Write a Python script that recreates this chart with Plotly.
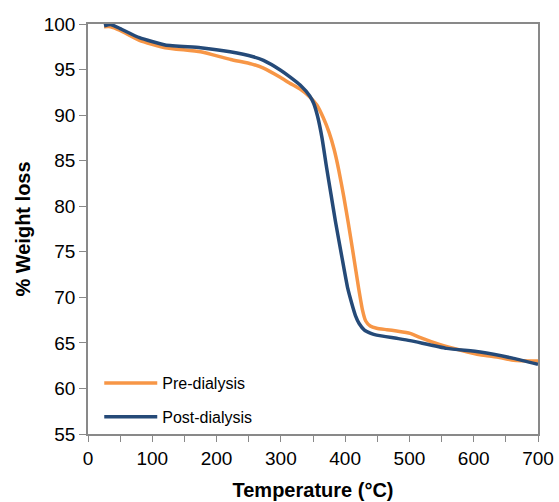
import plotly.graph_objects as go

# Thermogravimetric curves (temperature in °C, remaining weight in %)
pre_temp = [25, 35, 50, 80, 120, 175, 222, 255, 273, 299, 314, 330, 345, 356,
            366, 375, 383, 390, 398, 405, 413, 421, 427, 432, 439, 449, 465,
            480, 501, 516, 548, 580, 610, 640, 662, 700]
pre_weight = [99.7, 99.7, 99.3, 98.2, 97.4, 96.95, 96.1, 95.6, 95.15, 94.15, 93.5,
              92.85, 92.0, 91.1, 89.7, 88.1, 86.2, 84.0, 81.0, 78.1, 74.6, 71.0,
              68.6, 67.4, 66.85, 66.6, 66.45, 66.3, 66.05, 65.6, 64.8, 64.2, 63.7,
              63.4, 63.1, 63.0]

post_temp = [25, 35, 50, 80, 120, 175, 221, 257, 273, 299, 314, 330, 345, 351,
             357, 364, 371, 378, 385, 395, 404, 410, 416, 422, 430, 440, 449,
             480, 501, 558, 610, 662, 700]
post_weight = [99.8, 99.95, 99.5, 98.5, 97.7, 97.4, 96.95, 96.4, 96.0, 94.95, 94.2,
               93.3, 92.1, 91.3, 89.9, 87.5, 84.3, 81.3, 78.3, 74.4, 71.0, 69.4,
               68.0, 67.1, 66.4, 66.05, 65.85, 65.5, 65.25, 64.4, 64.0, 63.3, 62.65]

x_range = [0, 700]
y_range = [55, 100]

AXIS_GREY = "#898989"
FONT = "Liberation Sans"

fig = go.Figure()
fig.add_trace(go.Scatter(
    x=pre_temp, y=pre_weight, name="Pre-dialysis", mode="lines",
    line=dict(color="#F79646", width=3.5, shape="spline", smoothing=0.5),
    legendgroup="pre",
))
fig.add_trace(go.Scatter(
    x=post_temp, y=post_weight, name="Post-dialysis", mode="lines",
    line=dict(color="#254A78", width=3.5, shape="spline", smoothing=0.5),
    legendgroup="post",
))

fig.update_layout(
    width=559, height=502,
    margin=dict(l=88, r=21, t=24, b=68),
    paper_bgcolor="white", plot_bgcolor="white",
    font=dict(family=FONT, color="black"),
    showlegend=True,
    legend=dict(
        x=0.025, y=0.0, xanchor="left", yanchor="bottom",
        bgcolor="rgba(0,0,0,0)", font=dict(size=16, family=FONT),
        itemwidth=53, tracegroupgap=10, traceorder="grouped",
    ),
    xaxis=dict(
        range=x_range, dtick=100, tick0=0, automargin=False,
        showgrid=False, zeroline=False,
        showline=True, linecolor=AXIS_GREY, linewidth=1.5, mirror=True,
        ticks="outside", ticklen=6, tickcolor=AXIS_GREY,
        minor=dict(dtick=50, ticks="outside", ticklen=6, tickcolor=AXIS_GREY),
        tickfont=dict(size=19, family=FONT),
        title=dict(text="<b>Temperature (°C)</b>", font=dict(size=20, family=FONT),
                   standoff=15),
    ),
    yaxis=dict(
        range=y_range, dtick=5, tick0=55, automargin=False,
        showgrid=False, zeroline=False,
        showline=True, linecolor=AXIS_GREY, linewidth=1.5, mirror=True,
        ticks="outside", ticklen=7, tickcolor=AXIS_GREY,
        tickfont=dict(size=19, family=FONT),
        title=dict(text="<b>% Weight loss</b>", font=dict(size=20, family=FONT),
                   standoff=8),
    ),
)

fig.write_html("out.html")
